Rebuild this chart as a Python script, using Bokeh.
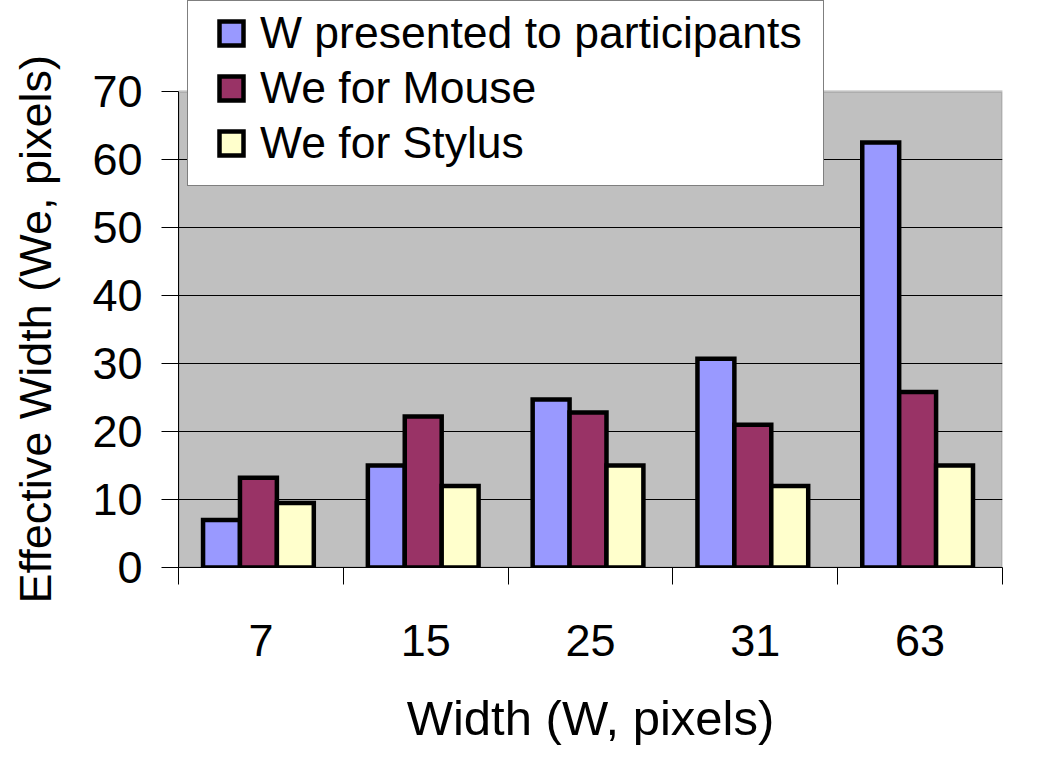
from bokeh.plotting import figure
from bokeh.models import (FactorRange, Range1d, LinearAxis, CategoricalAxis, FixedTicker,
                          Legend, LegendItem, ColumnDataSource, BoxAnnotation, Title)
from bokeh.transform import dodge
from bokeh.embed import file_html
from bokeh.resources import INLINE

# ---- data ----
categories = ["7", "15", "25", "31", "63"]
w_presented = [7.0, 15.0, 24.7, 30.7, 62.5]
we_mouse = [13.2, 22.2, 22.8, 21.0, 25.8]
we_stylus = [9.5, 12.0, 15.0, 12.0, 15.0]
series_names = ["W presented to participants", "We for Mouse", "We for Stylus"]
series_colors = ["#9999FF", "#993366", "#FFFFCC"]
y_ticks = [0, 10, 20, 30, 40, 50, 60, 70]
y_max = 70
x_title = "Width (W, pixels)"
y_title = "Effective Width (We, pixels)"

FONT = "Liberation Sans"

source = ColumnDataSource(dict(cat=categories, w=w_presented, mouse=we_mouse, stylus=we_stylus))

# frame spans page y 0..567; the value axis 0..70 occupies 91..567,
# the strip above it holds the legend box
p = figure(width=1040, height=765,
           x_range=FactorRange(factors=categories), y_range=Range1d(0, y_max * 567 / 476),
           output_backend="svg", toolbar_location=None, x_axis_location=None,
           min_border_left=178, min_border_right=38, min_border_top=0, min_border_bottom=198)

p.background_fill_color = "white"
p.border_fill_color = "white"
p.outline_line_color = None

# grey plot area with grey border (only up to 70)
plot_area = BoxAnnotation(top=y_max, fill_color="#C0C0C0", fill_alpha=1,
                          line_color="#808080", line_width=3, level="image")
p.add_layout(plot_area)

# y axis
ya = p.yaxis[0]
ya.ticker = FixedTicker(ticks=y_ticks)
ya.bounds = (0, y_max)
ya.major_tick_out = 17
ya.major_tick_in = 0
ya.minor_tick_line_color = None
ya.major_tick_line_color = "black"
ya.axis_line_color = "black"
ya.major_label_text_font = FONT
ya.major_label_text_font_size = "45px"
ya.major_label_text_color = "black"
ya.major_label_standoff = 19
ya.axis_label = " "
ya.axis_label_text_font_size = "1px"
ya.axis_label_standoff = 20

p.add_layout(Title(text=y_title, align="left", offset=-36, standoff=10,
                   text_font=FONT, text_font_size="45px", text_font_style="normal",
                   text_color="black"), "left")

p.ygrid.ticker = FixedTicker(ticks=y_ticks[:-1])
p.ygrid.grid_line_color = "black"
p.ygrid.grid_line_width = 1
for g in p.xgrid:
    g.visible = False

# x axes: boundary ticks (synthetic category coordinates), then category labels
edges = list(range(len(categories) + 1))
tick_axis = LinearAxis(ticker=FixedTicker(ticks=edges),
                       major_tick_out=17, major_tick_in=0, minor_tick_line_color=None,
                       major_tick_line_color="black", axis_line_color="black",
                       major_label_text_font_size="1px", major_label_text_alpha=0,
                       major_label_standoff=0)
p.add_layout(tick_axis, "below")

cat_axis = CategoricalAxis(major_tick_line_color=None, axis_line_color=None,
                           major_tick_out=0, major_tick_in=0,
                           major_label_text_font=FONT, major_label_text_font_size="45px",
                           major_label_text_color="black", major_label_standoff=40,
                           axis_label=x_title, axis_label_text_font=FONT,
                           axis_label_text_font_size="49px", axis_label_text_font_style="normal",
                           axis_label_text_color="black", axis_label_standoff=32)
p.add_layout(cat_axis, "below")

# bars
bw = 0.224
shift = -0.015
offsets = [shift - bw, shift, shift + bw]
fields = ["w", "mouse", "stylus"]
bar_renderers = []
for f, off, col in zip(fields, offsets, series_colors):
    r = p.vbar(x=dodge("cat", off, range=p.x_range), top=f, width=bw, source=source,
               fill_color=col, line_color="black", line_width=4.5, line_join="miter")
    bar_renderers.append(r)

# legend box (frame only)
dummy = p.vbar(x=[], top=[], width=0.1, fill_alpha=0, line_alpha=0)
leg_box = Legend(items=[LegendItem(label=" ", renderers=[dummy])], location=(9, 381),
                 padding=0, margin=0, glyph_width=0, glyph_height=1, label_width=635,
                 label_height=184, label_standoff=0, label_text_font_size="10px",
                 border_line_color="black", border_line_width=1,
                 background_fill_color="white", background_fill_alpha=1)
p.add_layout(leg_box, "center")

# legend entries
leg = Legend(items=[LegendItem(label=n, renderers=[r]) for n, r in zip(series_names, bar_renderers)],
             location=(38, 399), padding=0, margin=0, spacing=5,
             glyph_width=30, glyph_height=30, label_height=30, label_standoff=14,
             label_text_font=FONT, label_text_font_size="44.5px", label_text_color="black",
             background_fill_alpha=0, border_line_alpha=0)
p.add_layout(leg, "center")

open("out.html", "w").write(file_html(p, INLINE))
